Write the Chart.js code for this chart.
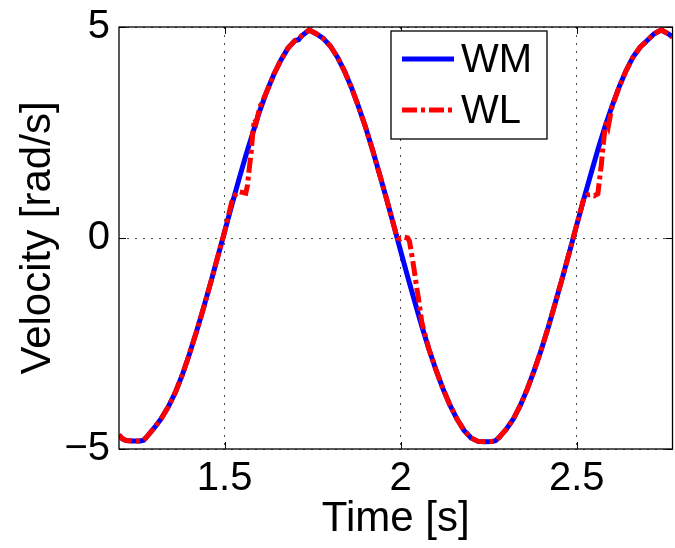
<!DOCTYPE html>
<html>
<head>
<meta charset="utf-8">
<script src="https://cdn.jsdelivr.net/npm/chart.js@4.4.1/dist/chart.umd.min.js"></script>
<style>
  html, body { margin: 0; padding: 0; background: #fff; }
  #wrap { width: 675px; height: 548px; }
</style>
</head>
<body>
<div id="wrap"><canvas id="velChart"></canvas></div>
<script>
// Data
const xTicks = [1.5, 2, 2.5];
const yTicks = [-5, 0, 5];

// WM (solid blue)
const tWM = [1.20,1.21,1.22,1.24,1.26,1.27,1.28,1.30,1.32,1.34,1.36,1.38,1.40,1.42,1.44,1.46,1.48,1.50,1.52,1.54,1.56,1.58,1.60,1.62,1.64,1.66,1.68,1.70,1.71,1.72,
  1.74,1.76,1.78,1.80,1.82,1.84,1.86,1.88,1.90,1.92,1.94,1.96,1.98,2.00,2.02,2.04,2.06,2.08,2.10,2.12,2.14,2.16,2.18,2.20,2.22,2.24,2.26,2.27,
  2.28,2.30,2.32,2.34,2.36,2.38,2.40,2.42,2.44,2.46,2.48,2.50,2.52,2.54,2.56,2.58,2.60,2.62,2.64,2.66,2.68,2.70,2.72,2.74,2.76,2.772];
const vWM = [-4.67,-4.76,-4.80,-4.81,-4.81,-4.79,-4.70,-4.50,-4.28,-4.00,-3.66,-3.24,-2.75,-2.22,-1.66,-1.07,-0.46,0.15,0.77,1.37,1.95,2.49,3.02,3.48,3.88,4.22,4.50,4.68,4.70,4.80,
  4.93,4.84,4.73,4.55,4.29,3.96,3.57,3.12,2.63,2.09,1.51,0.92,0.31,-0.31,-0.92,-1.51,-2.09,-2.63,-3.12,-3.57,-3.96,-4.29,-4.56,-4.74,-4.82,-4.83,-4.82,-4.80,
  -4.72,-4.53,-4.29,-3.96,-3.57,-3.12,-2.63,-2.09,-1.51,-0.92,-0.31,0.31,0.92,1.51,2.09,2.63,3.12,3.57,3.96,4.29,4.52,4.68,4.84,4.93,4.84,4.76];

// WL (red dash-dot), sticks near 1 rad/s and 0 rad/s
const tWL = [1.20,1.21,1.22,1.24,1.26,1.27,1.28,1.30,1.32,1.34,1.36,1.38,1.40,1.42,1.44,1.46,1.48,1.50,1.51,1.52,1.53,1.54,1.55,1.56,1.565,1.57,1.575,1.58,1.585,1.59,
  1.60,1.62,1.64,1.66,1.68,1.70,1.71,1.72,1.74,1.76,1.78,1.80,1.82,1.84,1.86,1.88,1.90,1.92,1.94,1.96,1.98,1.99,2.00,2.01,2.02,2.025,2.03,2.035,2.04,2.045,2.05,
  2.06,2.08,2.10,2.12,2.14,2.16,2.18,2.20,2.22,2.24,2.26,2.27,2.28,2.30,2.32,2.34,2.36,2.38,2.40,2.42,2.44,2.46,2.48,2.50,2.51,2.52,2.53,2.54,2.55,2.56,2.565,
  2.57,2.575,2.58,2.585,2.59,2.60,2.62,2.64,2.66,2.68,2.70,2.72,2.74,2.76,2.772];
const vWL = [-4.67,-4.76,-4.80,-4.81,-4.81,-4.79,-4.70,-4.50,-4.28,-4.00,-3.66,-3.24,-2.75,-2.22,-1.66,-1.07,-0.46,0.15,0.50,0.85,1.02,1.10,1.08,1.06,1.25,1.65,2.00,2.50,2.82,2.75,
  3.10,3.48,3.88,4.22,4.50,4.68,4.72,4.80,4.93,4.84,4.73,4.55,4.29,3.96,3.57,3.12,2.63,2.09,1.51,0.92,0.31,0.00,-0.02,0.02,0.00,-0.08,-0.32,-0.58,-0.85,-1.15,-1.40,
  -2.00,-2.63,-3.12,-3.57,-3.96,-4.29,-4.56,-4.74,-4.82,-4.83,-4.82,-4.80,-4.72,-4.53,-4.29,-3.96,-3.57,-3.12,-2.63,-2.09,-1.51,-0.92,-0.31,0.31,0.62,0.94,1.02,1.03,1.00,1.05,1.40,
  1.75,2.20,2.56,2.78,2.66,3.10,3.57,3.96,4.29,4.52,4.68,4.84,4.93,4.84,4.76];

const FONT = 'Liberation Sans, Arial, Helvetica, sans-serif';

// inward ticks + box, MATLAB style
const framePlugin = {
  id: 'frame',
  afterDatasetsDraw(chart) {
    const { ctx, chartArea: a, scales } = chart;
    ctx.save();
    ctx.strokeStyle = '#000';
    ctx.lineWidth = 1;
    ctx.setLineDash([]);
    ctx.beginPath();
    xTicks.forEach(v => {
      const x = Math.round(scales.x.getPixelForValue(v)) + 0.5;
      ctx.moveTo(x, a.bottom); ctx.lineTo(x, a.bottom - 7);
      ctx.moveTo(x, a.top); ctx.lineTo(x, a.top + 7);
    });
    yTicks.forEach(v => {
      const y = Math.round(scales.y.getPixelForValue(v)) + 0.5;
      ctx.moveTo(a.left, y); ctx.lineTo(a.left + 7, y);
      ctx.moveTo(a.right, y); ctx.lineTo(a.right - 7, y);
    });
    ctx.stroke();
    ctx.lineWidth = 1.3;
    ctx.strokeRect(a.left, a.top, a.right - a.left, a.bottom - a.top);
    ctx.restore();
  }
};

// boxed legend in the upper right
const boxLegend = {
  id: 'boxLegend',
  afterDraw(chart) {
    const { ctx, chartArea: a } = chart;
    const x0 = a.right - 281.5, y0 = a.top + 4, w = 156, h = 108;
    ctx.save();
    ctx.fillStyle = '#fff';
    ctx.fillRect(x0, y0, w, h);
    ctx.strokeStyle = '#000';
    ctx.lineWidth = 1.3;
    ctx.strokeRect(x0, y0, w, h);
    chart.data.datasets.forEach((ds, i) => {
      const y = y0 + 28 + i * 51;
      ctx.strokeStyle = ds.borderColor;
      ctx.lineWidth = ds.borderWidth;
      ctx.setLineDash(ds.borderDash || []);
      ctx.beginPath();
      ctx.moveTo(x0 + 11, y); ctx.lineTo(x0 + 63, y);
      ctx.stroke();
      ctx.setLineDash([]);
      ctx.fillStyle = '#000';
      ctx.font = '40px ' + FONT;
      ctx.textBaseline = 'middle';
      ctx.fillText(ds.label, x0 + 70, y + 2);
    });
    ctx.restore();
  }
};

const toPts = (t, v) => t.map((x, i) => ({ x, y: v[i] }));

new Chart(document.getElementById('velChart'), {
  type: 'line',
  data: {
    datasets: [
      { label: 'WM', data: toPts(tWM, vWM), borderColor: '#0000ff', borderWidth: 5,
        pointRadius: 0, tension: 0, fill: false, order: 2 },
      { label: 'WL', data: toPts(tWL, vWL), borderColor: '#ff0000', borderWidth: 5,
        borderDash: [15, 4, 4, 4], pointRadius: 0, tension: 0, fill: false, order: 1 }
    ]
  },
  options: {
    responsive: true, maintainAspectRatio: false, animation: false,
    layout: { padding: { top: 27, right: 2.5, left: 0, bottom: 0 } },
    plugins: { legend: { display: false }, tooltip: { enabled: false } },
    scales: {
      x: {
        type: 'linear', min: 1.2, max: 2.772,
        afterBuildTicks: s => { s.ticks = xTicks.map(v => ({ value: v })); },
        afterFit: s => { s.height = 99; s.paddingLeft = 0; s.paddingRight = 0; },
        ticks: { color: '#000', font: { family: FONT, size: 40 }, padding: 6,
                 maxRotation: 0, callback: v => String(v) },
        grid: { color: 'rgba(0,0,0,0.7)', lineWidth: 1, drawTicks: false },
        border: { display: false, dash: [2, 6] },
        title: { display: true, text: 'Time [s]', color: '#000',
                 font: { family: FONT, size: 42 }, padding: { top: 3, bottom: 3 } }
      },
      y: {
        min: -5, max: 5,
        afterBuildTicks: s => { s.ticks = yTicks.map(v => ({ value: v })); },
        afterFit: s => { s.width = 119; s.paddingTop = 0; s.paddingBottom = 0; },
        ticks: { color: '#000', font: { family: FONT, size: 40 }, padding: 9,
                 callback: v => v < 0 ? '\u2212' + Math.abs(v) : String(v) },
        grid: { color: 'rgba(0,0,0,0.7)', lineWidth: 1, drawTicks: false },
        border: { display: false, dash: [2, 6] },
        title: { display: true, text: 'Velocity [rad/s]', color: '#000',
                 font: { family: FONT, size: 42 }, padding: { top: 13, bottom: 0 } }
      }
    }
  },
  plugins: [framePlugin, boxLegend]
});
</script>
</body>
</html>
